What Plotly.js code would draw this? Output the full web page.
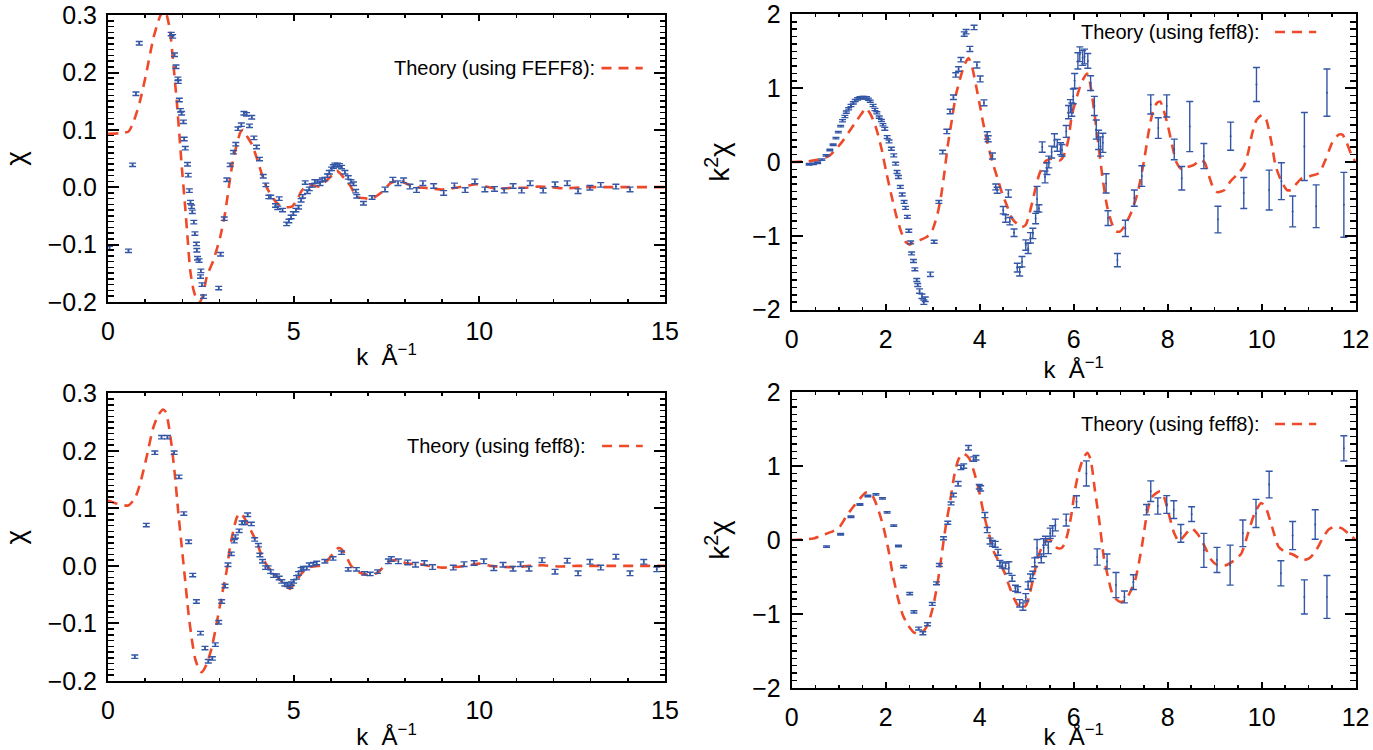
<!DOCTYPE html>
<html><head><meta charset="utf-8">
<script src="https://cdn.plot.ly/plotly-3.0.1.min.js"></script>
<style>html,body{margin:0;padding:0;background:#fff;}#chart{width:1373px;height:750px;}</style>
</head><body><div id="chart"></div>
<script>
// ---------- Panel A (top-left): chi(k) ----------
const aK = [0.04,0.55,0.66,0.75,0.84,1.70,1.74,1.79,1.83,1.88,
 1.89,1.92,1.95,1.98,2.03,2.05,2.08,2.14,2.16,2.19,
 2.22,2.25,2.27,2.31,2.34,2.38,2.39,2.41,2.45,2.49,
 2.50,2.53,2.57,2.98,3.03,3.13,3.20,3.29,3.38,3.44,
 3.50,3.59,3.66,3.73,3.81,3.87,3.93,4.00,4.08,4.18,
 4.25,4.33,4.38,4.51,4.57,4.61,4.70,4.81,4.87,4.93,
 4.99,5.06,5.13,5.20,5.24,5.31,5.37,5.42,5.50,5.57,
 5.64,5.71,5.77,5.84,5.91,5.96,6.02,6.07,6.11,6.18,
 6.23,6.29,6.38,6.47,6.54,6.61,6.67,6.70,6.88,7.11,
 7.46,7.67,7.81,7.96,8.13,8.31,8.48,8.77,9.04,9.33,
 9.62,9.88,10.15,10.41,10.67,10.91,11.14,11.37,11.72,12.04,
 12.37,12.66,12.98,13.27,13.68,14.06];
const aChi = [-0.106,-0.111,0.039,0.163,0.251,0.267,0.263,0.231,0.210,0.189,
 0.184,0.152,0.134,0.129,0.114,0.084,0.068,0.040,0.021,-0.006,
 -0.026,-0.034,-0.043,-0.061,-0.081,-0.099,-0.110,-0.124,-0.128,-0.156,
 -0.146,-0.170,-0.191,-0.176,-0.117,-0.055,0.013,0.039,0.061,0.075,
 0.102,0.109,0.129,0.127,0.107,0.122,0.086,0.070,0.049,0.019,
 0.004,-0.017,-0.017,-0.032,-0.036,-0.020,-0.040,-0.064,-0.059,-0.052,
 -0.046,-0.040,-0.035,-0.023,-0.016,0.008,-0.008,-0.003,0.003,0.010,
 0.010,0.006,0.013,0.014,0.020,0.026,0.032,0.036,0.039,0.039,
 0.038,0.035,0.026,0.017,0.010,0.006,-0.007,-0.016,-0.028,-0.018,
 -0.004,0.013,0.007,0.012,0.001,-0.005,0.007,0.002,-0.010,0.003,
 -0.005,0.010,-0.004,-0.003,-0.006,0.002,-0.006,0.007,-0.006,0.005,
 0.007,-0.007,-0.001,0.004,0.001,-0.004];
const aErr = [0.003,0.003,0.003,0.003,0.003,0.003,0.003,0.003,0.003,0.003,
 0.003,0.003,0.003,0.003,0.003,0.003,0.003,0.003,0.003,0.003,
 0.003,0.003,0.003,0.003,0.003,0.003,0.003,0.003,0.003,0.003,
 0.003,0.003,0.003,0.003,0.003,0.003,0.003,0.003,0.003,0.003,
 0.003,0.003,0.003,0.003,0.003,0.003,0.003,0.003,0.003,0.003,
 0.003,0.003,0.003,0.003,0.003,0.003,0.003,0.003,0.003,0.003,
 0.003,0.003,0.003,0.003,0.003,0.003,0.003,0.003,0.003,0.003,
 0.003,0.003,0.003,0.003,0.003,0.003,0.003,0.003,0.003,0.003,
 0.003,0.003,0.003,0.003,0.003,0.003,0.003,0.003,0.003,0.003,
 0.004,0.004,0.004,0.004,0.004,0.004,0.004,0.004,0.004,0.004,
 0.004,0.004,0.004,0.004,0.004,0.004,0.004,0.004,0.004,0.004,
 0.004,0.004,0.004,0.004,0.004,0.004];
const aThK = [0,0.3,0.55,0.68,0.86,1.04,1.22,1.40,1.50,1.58,
 1.67,1.76,1.85,1.92,1.98,2.07,2.14,2.21,2.30,2.39,
 2.47,2.55,2.66,2.84,3.02,3.15,3.29,3.38,3.47,3.56,
 3.64,3.73,3.87,4.00,4.14,4.27,4.45,4.63,4.81,4.95,
 5.08,5.22,5.35,5.53,5.71,5.89,6.07,6.16,6.25,6.38,
 6.52,6.70,6.85,7.0,7.14,7.37,7.61,7.84,8.07,8.31,
 8.66,9.0,9.36,9.71,9.94,10.17,10.52,10.88,11.23,11.58,
 11.93,12.3,12.86,13.44,14.0,15];
const aTh = [0.093,0.094,0.097,0.113,0.150,0.202,0.260,0.298,0.308,0.300,
 0.272,0.214,0.150,0.092,0.040,-0.029,-0.087,-0.144,-0.179,-0.196,
 -0.200,-0.190,-0.156,-0.127,-0.087,-0.046,0.017,0.052,0.075,0.095,
 0.100,0.090,0.075,0.052,0.023,0.0,-0.020,-0.032,-0.035,-0.034,
 -0.023,-0.006,0.003,0.003,0.001,0.012,0.023,0.029,0.024,0.014,
 0.003,-0.017,-0.019,-0.020,-0.019,-0.009,0.007,0.012,0.005,0.0,
 -0.002,-0.004,-0.001,0.003,0.005,0.001,-0.003,-0.001,-0.001,0.001,
 0.0,-0.002,0.0,0.0,0.0,0.0];

// ---------- Panel B (top-right): k^2 chi(k) ----------
const bK = [0.37,0.46,0.55,0.64,0.73,0.81,0.88,0.94,0.99,1.04,
 1.08,1.13,1.16,1.21,1.26,1.31,1.35,1.40,1.45,1.50,
 1.54,1.59,1.63,1.67,1.73,1.77,1.81,1.86,1.91,1.94,
 1.98,2.03,2.07,2.12,2.17,2.21,2.24,2.27,2.31,2.35,
 2.39,2.42,2.46,2.49,2.53,2.55,2.59,2.62,2.66,2.68,
 2.72,2.77,2.81,2.84,2.95,3.03,3.13,3.21,3.30,3.37,
 3.44,3.49,3.55,3.60,3.67,3.71,3.79,3.88,3.94,4.01,
 4.09,4.16,4.18,4.27,4.34,4.37,4.50,4.55,4.61,4.64,
 4.73,4.80,4.85,4.90,4.98,5.03,5.08,5.13,5.19,5.22,
 5.26,5.33,5.39,5.43,5.47,5.53,5.59,5.65,5.72,5.75,
 5.84,5.89,5.93,5.96,5.99,6.02,6.09,6.13,6.19,6.23,
 6.30,6.36,6.44,6.48,6.53,6.57,6.62,6.69,6.73,6.93,
 7.10,7.29,7.45,7.64,7.80,7.98,8.14,8.30,8.47,8.77,
 9.07,9.34,9.62,9.89,10.16,10.42,10.66,10.91,11.16,11.39,
 11.75];
const bChi = [-0.03,-0.025,-0.01,0.032,0.090,0.162,0.234,0.324,0.405,0.486,
 0.559,0.617,0.676,0.721,0.766,0.802,0.833,0.856,0.869,0.874,
 0.874,0.869,0.851,0.824,0.766,0.712,0.667,0.608,0.563,0.505,
 0.450,0.338,0.279,0.180,0.090,-0.023,-0.135,-0.203,-0.338,-0.441,
 -0.541,-0.622,-0.743,-0.932,-1.090,-1.239,-1.342,-1.455,-1.599,-1.667,
 -1.75,-1.82,-1.90,-1.86,-1.523,-1.081,-0.541,0.135,0.414,0.685,
 0.878,1.180,1.261,1.387,1.734,1.766,1.532,1.824,1.315,1.126,
 0.802,0.360,0.315,0.081,-0.338,-0.383,-0.653,-0.766,-0.428,-0.802,
 -0.959,-1.432,-1.486,-1.351,-1.126,-1.171,-1.027,-0.968,-0.766,-0.50,
 -0.63,0.203,-0.203,-0.090,0.0,0.135,0.293,0.225,0.180,0.158,
 0.414,0.676,0.756,0.71,0.89,1.10,1.37,1.46,1.41,1.43,
 1.37,1.07,0.76,0.44,0.30,0.21,0.26,-0.29,-0.76,-1.33,
 -0.90,-0.49,-0.19,0.78,0.46,0.76,0.17,-0.22,0.48,0.08,
 -0.78,0.35,-0.42,1.05,-0.38,-0.26,-0.67,0.21,-0.60,0.94,
 -0.58];
const bErr = [0.01,0.01,0.01,0.01,0.01,0.01,0.01,0.01,0.01,0.01,
 0.015,0.015,0.015,0.015,0.015,0.015,0.015,0.015,0.015,0.015,
 0.015,0.015,0.015,0.015,0.015,0.015,0.015,0.015,0.015,0.015,
 0.02,0.02,0.02,0.02,0.02,0.02,0.02,0.02,0.02,0.02,
 0.02,0.02,0.02,0.02,0.02,0.02,0.02,0.02,0.02,0.02,
 0.03,0.03,0.03,0.03,0.03,0.02,0.02,0.025,0.03,0.03,
 0.03,0.03,0.03,0.03,0.03,0.03,0.035,0.03,0.04,0.04,
 0.04,0.05,0.04,0.04,0.04,0.04,0.05,0.05,0.05,0.05,
 0.05,0.06,0.06,0.07,0.07,0.07,0.07,0.07,0.07,0.17,
 0.05,0.07,0.08,0.08,0.08,0.08,0.09,0.08,0.08,0.08,
 0.08,0.09,0.09,0.09,0.10,0.10,0.11,0.10,0.10,0.10,
 0.10,0.10,0.13,0.13,0.13,0.13,0.13,0.13,0.10,0.09,
 0.11,0.11,0.14,0.13,0.14,0.15,0.14,0.16,0.34,0.17,
 0.18,0.19,0.21,0.23,0.27,0.25,0.21,0.46,0.29,0.32,
 0.44];
const bThK = [0,0.35,0.60,0.81,0.95,1.09,1.24,1.38,1.48,1.58,
 1.69,1.80,1.91,2.01,2.12,2.22,2.33,2.42,2.51,2.58,
 2.72,2.86,2.96,3.03,3.11,3.18,3.25,3.32,3.41,3.49,
 3.60,3.67,3.76,3.83,3.92,3.99,4.07,4.16,4.27,4.38,
 4.48,4.59,4.69,4.80,4.90,4.98,5.05,5.12,5.19,5.26,
 5.33,5.40,5.47,5.54,5.62,5.70,5.75,5.82,5.89,5.96,
 6.07,6.14,6.20,6.28,6.34,6.44,6.53,6.62,6.71,6.81,
 6.90,6.99,7.08,7.22,7.36,7.50,7.59,7.68,7.77,7.84,
 7.91,8.01,8.10,8.19,8.30,8.42,8.56,8.70,8.79,8.88,
 8.97,9.06,9.21,9.34,9.48,9.62,9.71,9.80,9.89,10.01,
 10.10,10.21,10.30,10.42,10.54,10.63,10.72,10.86,11.04,11.22,
 11.36,11.50,11.64,11.72,11.81,11.91,12.0];
const bTh = [0,0.01,0.036,0.09,0.18,0.29,0.43,0.56,0.65,0.73,
 0.63,0.45,0.18,-0.135,-0.45,-0.72,-0.95,-1.08,-1.12,-1.09,
 -1.06,-1.02,-0.97,-0.86,-0.68,-0.45,-0.135,0.225,0.585,0.90,
 1.17,1.31,1.41,1.31,1.04,0.81,0.54,0.27,0.0,-0.225,
 -0.43,-0.61,-0.77,-0.84,-0.88,-0.85,-0.72,-0.54,-0.35,-0.18,
 -0.07,0.01,0.036,0.045,0.036,0.02,0.045,0.135,0.315,0.63,
 0.89,1.03,1.12,1.20,1.10,0.67,0.21,-0.24,-0.60,-0.83,
 -0.94,-0.94,-0.87,-0.69,-0.42,0.03,0.39,0.67,0.80,0.82,
 0.71,0.48,0.21,-0.01,-0.10,-0.07,-0.04,0.03,-0.01,-0.19,
 -0.35,-0.41,-0.38,-0.26,-0.17,-0.06,0.12,0.39,0.57,0.64,
 0.57,0.26,-0.06,-0.26,-0.38,-0.38,-0.31,-0.22,-0.19,-0.15,
 0.03,0.26,0.37,0.37,0.26,0.10,0.0];

// ---------- Panel C (bottom-left): chi(k) ----------
const cK = [0.72,1.03,1.26,1.44,1.60,1.78,1.91,2.04,2.17,2.28,
 2.38,2.49,2.61,2.70,2.81,2.89,2.98,3.06,3.15,3.23,
 3.32,3.40,3.43,3.53,3.61,3.68,3.76,3.86,3.95,4.05,
 4.09,4.16,4.24,4.31,4.38,4.46,4.54,4.61,4.68,4.76,
 4.83,4.90,4.94,5.00,5.08,5.13,5.20,5.26,5.35,5.42,
 5.53,5.62,5.84,6.06,6.29,6.47,6.69,6.91,7.06,7.26,
 7.55,7.63,7.82,8.07,8.28,8.52,8.74,9.30,9.59,9.86,
 10.12,10.39,10.64,10.91,11.11,11.34,11.69,12.04,12.37,12.66,
 12.98,13.27,13.68,14.06,14.43,14.78];
const cChi = [-0.158,0.071,0.197,0.224,0.224,0.197,0.155,0.091,0.042,-0.016,
 -0.062,-0.117,-0.143,-0.166,-0.161,-0.137,-0.098,-0.062,-0.035,0.002,
 0.021,0.043,0.051,0.061,0.075,0.075,0.089,0.073,0.046,0.036,
 0.019,0.008,-0.003,-0.003,-0.010,-0.017,-0.017,-0.021,-0.027,-0.032,
 -0.033,-0.036,-0.031,-0.027,-0.020,-0.013,-0.006,-0.004,-0.004,0.002,
 0.003,0.005,0.008,0.013,0.023,-0.006,-0.006,-0.013,-0.014,-0.010,
 0.008,0.012,0.008,0.006,0.002,0.005,-0.002,-0.003,0.003,0.005,
 0.008,-0.004,0.002,-0.005,0.003,-0.005,0.010,-0.010,0.009,-0.013,
 0.007,-0.003,0.016,-0.013,0.007,-0.006];
const cErr = [0.003,0.003,0.003,0.003,0.003,0.003,0.003,0.003,0.003,0.003,
 0.003,0.003,0.003,0.003,0.003,0.003,0.003,0.003,0.003,0.003,
 0.003,0.003,0.003,0.003,0.003,0.003,0.003,0.003,0.003,0.003,
 0.003,0.003,0.003,0.003,0.003,0.003,0.003,0.003,0.003,0.003,
 0.003,0.003,0.003,0.003,0.003,0.003,0.003,0.003,0.003,0.003,
 0.003,0.003,0.003,0.003,0.003,0.003,0.003,0.003,0.003,0.003,
 0.004,0.004,0.004,0.004,0.004,0.004,0.004,0.004,0.004,0.004,
 0.004,0.004,0.004,0.004,0.004,0.004,0.004,0.004,0.004,0.004,
 0.004,0.004,0.004,0.004,0.004,0.004];
const cThK = [0,0.25,0.54,0.72,0.85,1.03,1.21,1.35,1.48,1.55,
 1.62,1.71,1.80,1.89,1.98,2.07,2.16,2.25,2.34,2.43,
 2.52,2.65,2.79,2.92,3.05,3.19,3.28,3.37,3.46,3.54,
 3.62,3.73,3.86,4.00,4.13,4.27,4.45,4.63,4.81,4.90,
 4.99,5.12,5.26,5.39,5.53,5.71,5.89,6.07,6.20,6.29,
 6.42,6.56,6.79,7.02,7.26,7.55,7.78,8.07,8.37,8.66,
 9.01,9.36,9.71,10.0,10.29,10.64,10.99,11.34,11.69,12.16,
 12.63,13.44,15];
const cTh = [0.114,0.108,0.105,0.117,0.140,0.187,0.239,0.262,0.272,0.268,
 0.250,0.210,0.158,0.094,0.036,-0.021,-0.079,-0.125,-0.160,-0.177,
 -0.185,-0.172,-0.143,-0.102,-0.056,-0.010,0.031,0.060,0.083,0.092,
 0.088,0.077,0.060,0.042,0.019,0.002,-0.013,-0.024,-0.036,-0.040,
 -0.033,-0.021,-0.010,-0.003,-0.001,0.0,0.008,0.022,0.031,0.029,
 0.016,-0.001,-0.012,-0.016,-0.012,0.007,0.010,0.004,0.003,0.0,
 -0.003,-0.002,0.001,0.004,0.0,-0.002,-0.002,0.0,0.001,-0.001,
 0.0,0.0,0.0];

// ---------- Panel D (bottom-right): k^2 chi(k) ----------
const dK = [0.74,1.04,1.26,1.45,1.62,1.79,1.93,2.03,2.17,2.27,
 2.38,2.51,2.60,2.70,2.79,2.89,2.99,3.08,3.14,3.23,
 3.32,3.39,3.44,3.54,3.60,3.66,3.76,3.87,3.92,3.99,
 4.02,4.11,4.16,4.22,4.27,4.33,4.39,4.43,4.48,4.55,
 4.62,4.69,4.76,4.81,4.85,4.92,4.98,5.03,5.08,5.13,
 5.17,5.22,5.31,5.36,5.40,5.46,5.50,5.55,5.61,5.84,
 6.06,6.27,6.50,6.71,6.90,7.08,7.27,7.55,7.64,7.79,
 7.98,8.13,8.28,8.51,8.77,9.05,9.33,9.60,9.88,10.16,
 10.41,10.66,10.91,11.14,11.39,11.75];
const dChi = [-0.09,0.077,0.315,0.48,0.595,0.617,0.563,0.374,0.194,-0.081,
 -0.36,-0.725,-0.973,-1.198,-1.261,-1.14,-0.865,-0.586,-0.338,0.023,
 0.234,0.495,0.608,0.761,0.982,1.0,1.248,1.095,1.113,0.72,
 0.698,0.338,0.135,-0.014,-0.045,-0.059,-0.167,-0.315,-0.338,-0.351,
 -0.374,-0.518,-0.653,-0.671,-0.856,-0.901,-0.775,-0.617,-0.509,-0.473,
 -0.302,-0.113,-0.248,-0.104,-0.009,-0.104,0.09,0.122,0.203,0.27,
 0.518,0.90,-0.23,-0.29,-0.61,-0.77,-0.57,0.41,0.66,0.46,
 0.48,0.41,0.09,0.35,-0.14,-0.27,-0.34,0.09,0.36,0.75,
 -0.45,0.06,-0.77,0.21,-0.77,1.24];
const dErr = [0.01,0.01,0.01,0.01,0.01,0.01,0.01,0.01,0.01,0.01,
 0.015,0.015,0.015,0.02,0.02,0.02,0.02,0.02,0.02,0.02,
 0.02,0.02,0.025,0.03,0.03,0.03,0.03,0.03,0.03,0.03,
 0.035,0.035,0.035,0.04,0.04,0.04,0.04,0.04,0.04,0.04,
 0.08,0.04,0.04,0.04,0.05,0.05,0.05,0.05,0.05,0.05,
 0.06,0.12,0.06,0.12,0.06,0.08,0.07,0.07,0.08,0.08,
 0.08,0.17,0.11,0.10,0.17,0.08,0.10,0.07,0.14,0.11,
 0.12,0.12,0.12,0.10,0.23,0.17,0.27,0.18,0.19,0.18,
 0.17,0.19,0.23,0.20,0.29,0.17];
const dThK = [0,0.46,0.67,0.88,1.02,1.16,1.31,1.45,1.57,1.64,
 1.73,1.83,1.94,2.05,2.15,2.26,2.36,2.47,2.58,2.68,
 2.79,2.89,3.0,3.07,3.14,3.21,3.28,3.37,3.46,3.54,
 3.63,3.71,3.78,3.88,3.99,4.09,4.20,4.30,4.41,4.52,
 4.62,4.73,4.82,4.90,4.99,5.06,5.13,5.20,5.27,5.36,
 5.46,5.54,5.65,5.74,5.81,5.88,5.95,6.02,6.10,6.20,
 6.29,6.36,6.45,6.55,6.64,6.73,6.82,6.92,7.01,7.10,
 7.19,7.31,7.45,7.56,7.65,7.75,7.84,7.93,8.02,8.14,
 8.24,8.37,8.51,8.65,8.79,8.93,9.06,9.24,9.43,9.57,
 9.71,9.85,9.99,10.08,10.22,10.36,10.50,10.68,10.87,11.01,
 11.14,11.28,11.42,11.56,11.70,11.84,12.0];
const dTh = [0,0.02,0.07,0.12,0.18,0.32,0.45,0.56,0.64,0.645,
 0.585,0.43,0.20,-0.11,-0.47,-0.79,-1.01,-1.15,-1.24,-1.27,
 -1.24,-1.15,-0.92,-0.70,-0.43,-0.11,0.20,0.52,0.88,1.08,
 1.17,1.15,1.10,0.92,0.65,0.34,0.07,-0.16,-0.29,-0.43,
 -0.61,-0.79,-0.89,-0.93,-0.88,-0.74,-0.54,-0.34,-0.18,-0.045,
 0.014,-0.02,-0.11,-0.11,-0.045,0.11,0.34,0.65,0.90,1.10,
 1.18,1.09,0.68,0.23,-0.23,-0.50,-0.72,-0.81,-0.84,-0.81,
 -0.72,-0.54,-0.09,0.36,0.57,0.63,0.66,0.57,0.36,0.09,
 -0.02,0.07,0.16,0.07,-0.09,-0.27,-0.34,-0.34,-0.27,-0.18,
 0.09,0.36,0.50,0.45,0.18,-0.09,-0.16,-0.20,-0.27,-0.25,
 -0.16,0.0,0.14,0.18,0.16,0.09,0.0];

// ---------- Text ----------
const legendTexts = ["Theory (using FEFF8):", "Theory (using feff8):", "Theory (using feff8):", "Theory (using feff8):"];
const xTitle = "k  Å<sup>−1</sup>";
const yTitleChi = "χ";
const yTitleK2 = "k<sup>2</sup>χ";

// ---------- Styling ----------
const BLUE = "#3356a6";
const RED = "#ee4a2a";
const DASH = "10px,7px";
const FONT = "Liberation Sans, Arial, sans-serif";

function dataTrace(x, y, e, xa, ya) {
  return {x: x, y: y, xaxis: xa, yaxis: ya, type: "scatter", mode: "markers",
    marker: {size: 2, color: BLUE},
    error_y: {type: "data", array: e, visible: true, color: BLUE, thickness: 1.4, width: 3.5},
    hoverinfo: "skip"};
}
function theoryTrace(x, y, xa, ya) {
  return {x: x, y: y, xaxis: xa, yaxis: ya, type: "scatter", mode: "lines",
    line: {color: RED, width: 2.6, dash: DASH, shape: "spline", smoothing: 0.6},
    cliponaxis: true, hoverinfo: "skip"};
}

const traces = [
  theoryTrace(aThK, aTh, "x", "y"), dataTrace(aK, aChi, aErr, "x", "y"),
  theoryTrace(bThK, bTh, "x2", "y2"), dataTrace(bK, bChi, bErr, "x2", "y2"),
  theoryTrace(cThK, cTh, "x3", "y3"), dataTrace(cK, cChi, cErr, "x3", "y3"),
  theoryTrace(dThK, dTh, "x4", "y4"), dataTrace(dK, dChi, dErr, "x4", "y4")
];

function baseAxis() {
  return {showline: true, linewidth: 2, linecolor: "black", mirror: "allticks",
    ticks: "inside", tickwidth: 2, tickcolor: "black",
    showgrid: false, zeroline: false, automargin: false,
    tickfont: {family: FONT, size: 25, color: "black"}};
}
function xAx(domain, range, dtick, minor, anchor, standoff) {
  return Object.assign(baseAxis(), {domain: domain, range: range, anchor: anchor,
    tick0: 0, dtick: dtick, ticklen: 6, ticklabelstandoff: 6,
    minor: {ticks: "inside", ticklen: 3, tickwidth: 1.5, tickcolor: "black", dtick: minor, tick0: 0},
    title: {text: xTitle, font: {family: FONT, size: 24, color: "black"}, standoff: standoff}});
}
function yAx(domain, range, dtick, minor, fmt, anchor, title, standoff) {
  return Object.assign(baseAxis(), {domain: domain, range: range, anchor: anchor,
    tick0: 0, dtick: dtick, tickformat: fmt, ticklen: 11, ticklabelstandoff: 4,
    minor: {ticks: "inside", ticklen: 5.5, tickwidth: 1.5, tickcolor: "black", dtick: minor, tick0: 0},
    title: {text: title, font: {family: FONT, size: 28, color: "black"}, standoff: standoff}});
}

const xL = [108/1373, 665/1373], xR = [791.7/1373, 1355.7/1373];

function legendItems(xa, ya, text, tx, ty, s0, s1) {
  const ann = {xref: xa + " domain", yref: ya + " domain", x: tx, y: ty, xanchor: "right", yanchor: "middle",
    text: text, showarrow: false, font: {family: FONT, size: 20, color: "black"}};
  const shp = {type: "line", xref: xa + " domain", yref: ya + " domain", x0: s0, x1: s1, y0: ty, y1: ty,
    line: {color: RED, width: 2.6, dash: DASH}};
  return [ann, shp];
}
const L1 = legendItems("x", "y", legendTexts[0], 0.878, 0.815, 0.886, 0.96);
const L2 = legendItems("x2", "y2", legendTexts[1], 0.834, 0.94, 0.857, 0.93);
const L3 = legendItems("x3", "y3", legendTexts[2], 0.862, 0.817, 0.887, 0.96);
const L4 = legendItems("x4", "y4", legendTexts[3], 0.834, 0.892, 0.857, 0.93);

const layout = {
  width: 1373, height: 750, margin: {l: 0, r: 0, t: 0, b: 0},
  paper_bgcolor: "white", plot_bgcolor: "white", showlegend: false,
  font: {family: FONT, size: 25, color: "black"},
  xaxis: xAx(xL, [-0.002, 15.002], 5, 1, "y", 4),
  yaxis: yAx([1 - 302/750, 1 - 15/750], [-0.2003, 0.3003], 0.1, 0.01, ".1f", "x", yTitleChi, 14),
  xaxis2: xAx(xR, [-0.002, 12.002], 2, 0.5, "y2", 0),
  yaxis2: yAx([1 - 309.7/750, 1 - 14.3/750], [-2.002, 2.002], 1, 0.1, "d", "x2", yTitleK2, 14),
  xaxis3: xAx(xL, [-0.002, 15.002], 5, 1, "y3", 6),
  yaxis3: yAx([1 - 681/750, 1 - 393.3/750], [-0.2003, 0.3003], 0.1, 0.01, ".1f", "x3", yTitleChi, 14),
  xaxis4: xAx(xR, [-0.002, 12.002], 2, 0.5, "y4", 2),
  yaxis4: yAx([1 - 688/750, 1 - 392/750], [-2.002, 2.002], 1, 0.1, "d", "x4", yTitleK2, 14),
  annotations: [L1[0], L2[0], L3[0], L4[0]],
  shapes: [L1[1], L2[1], L3[1], L4[1]]
};

Plotly.newPlot("chart", traces, layout, {staticPlot: true, displayModeBar: false});
</script>
</body></html>
